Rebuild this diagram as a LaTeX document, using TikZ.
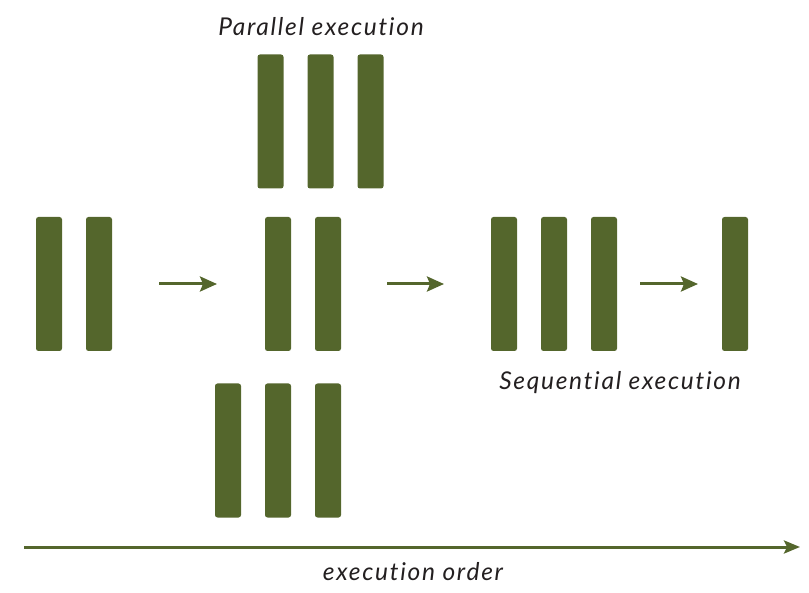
\documentclass[tikz,border=0pt]{standalone}
\usepackage{fontspec}
\setmainfont[Ligatures={NoCommon},LetterSpace=7]{Lato}
\usetikzlibrary{arrows.meta}
\definecolor{barg}{HTML}{54662C}
\definecolor{txt}{HTML}{231F20}
\begin{document}
\begin{tikzpicture}[x=1pt,y=-1pt,
  bar/.style={fill=barg,draw=none,rounded corners=2.5pt,minimum width=26pt,minimum height=134pt,inner sep=0pt},
  flow/.style={draw=barg,line width=3pt,-{Stealth[length=17pt,width=15pt,inset=3pt]}},
  lbl/.style={text=txt,font=\fontsize{24.5}{28}\selectfont\itshape,inner sep=0pt}]
\useasboundingbox (0,0) rectangle (809,593);
% left group
\node[bar] (l1) at (49,284) {};
\node[bar] (l2) at (99,284) {};
% middle
\node[bar] (m1) at (278,284) {};
\node[bar] (m2) at (328,284) {};
% top
\node[bar] (t1) at (270.5,121.5) {};
\node[bar] (t2) at (320.5,121.5) {};
\node[bar] (t3) at (370.5,121.5) {};
% bottom
\node[bar] (b1) at (228,450.5) {};
\node[bar] (b2) at (278,450.5) {};
\node[bar] (b3) at (328,450.5) {};
% right
\node[bar] (r1) at (504,284) {};
\node[bar] (r2) at (554,284) {};
\node[bar] (r3) at (604,284) {};
\node[bar] (s1) at (735,284) {};
% arrows
\coordinate (a1s) at (159,284);
\coordinate (a1e) at (217,284);
\coordinate (a2s) at (387,284);
\coordinate (a2e) at (444,284);
\coordinate (a3s) at (640,284);
\coordinate (a3e) at (698,284);
\coordinate (os) at (24,547);
\coordinate (oe) at (800,547);
\draw[flow] (a1s) -- (a1e);
\draw[flow] (a2s) -- (a2e);
\draw[flow] (a3s) -- (a3e);
\draw[flow,-{Stealth[length=16pt,width=13pt,inset=3pt]}] (os) -- (oe);
% labels
\node[lbl,anchor=base] (pl) at (321,35.5) {Parallel execution};
\node[lbl,anchor=base] (sl) at (620,389.5) {Sequential execution};
\node[lbl,anchor=base] (ol) at (413,580) {execution order};
\end{tikzpicture}
\end{document}
